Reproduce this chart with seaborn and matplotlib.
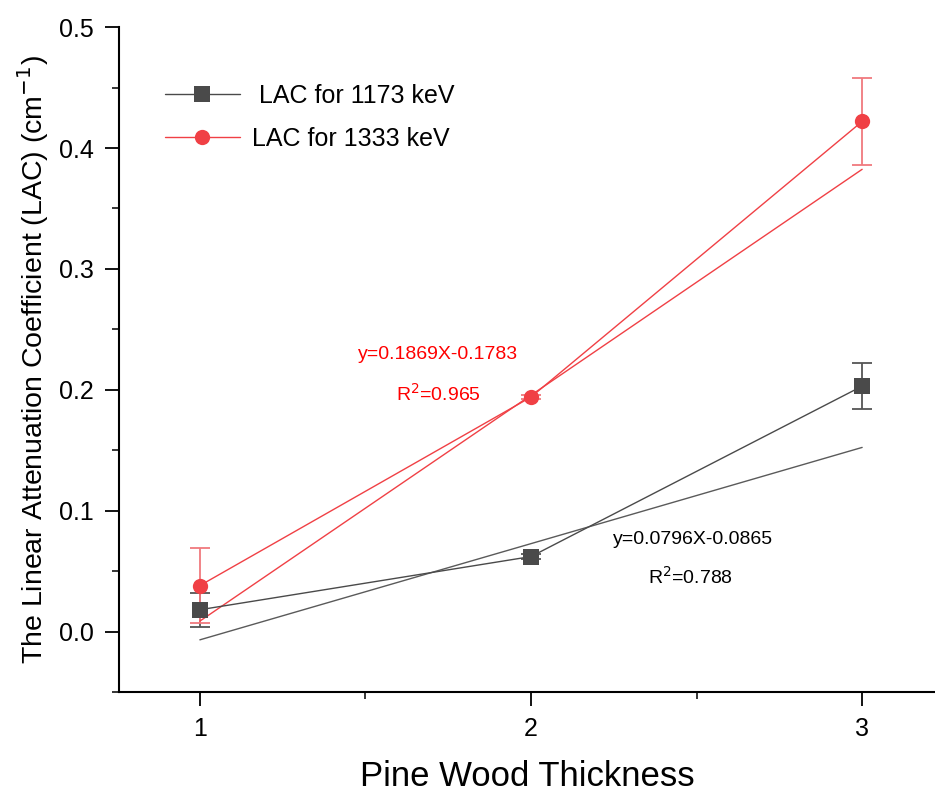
import numpy as np
import pandas as pd
import matplotlib
matplotlib.use("Agg")
import matplotlib.pyplot as plt
import seaborn as sns
from matplotlib.ticker import MultipleLocator, FormatStrFormatter

# DATA
thickness = [1, 2, 3]
lac_1173 = [0.018, 0.062, 0.203]
err_1173 = [0.014, 0.002, 0.019]
lac_1333 = [0.038, 0.194, 0.422]
err_1333 = [0.031, 0.002, 0.036]

# linear fits as printed on the chart (slope, intercept)
fit_1173 = (0.0796, -0.0865)
fit_1333 = (0.1869, -0.1783)

labels = [" LAC for 1173 keV", "LAC for 1333 keV"]
grey = "#4a4a4a"
red = "#f04045"

sns.set_style("ticks")
plt.rcParams["font.family"] = ["Liberation Sans", "DejaVu Sans"]
plt.rcParams["text.color"] = "black"
plt.rcParams["axes.labelcolor"] = "black"

fig = plt.figure(figsize=(9.35, 7.99), dpi=100)
ax = fig.add_axes([0.127, 0.134, 0.873, 0.832])

df = pd.DataFrame({
    "x": thickness * 2,
    "y": lac_1173 + lac_1333,
    "series": [labels[0]] * 3 + [labels[1]] * 3,
})

# error bars first so markers sit on top
ax.errorbar(thickness, lac_1173, yerr=err_1173, fmt="none", ecolor="#555555",
            elinewidth=1.3, capsize=7, capthick=1.3, zorder=2)
ax.errorbar(thickness, lac_1333, yerr=err_1333, fmt="none", ecolor="#f07a7e",
            elinewidth=1.3, capsize=7, capthick=1.3, zorder=2)

sns.lineplot(data=df, x="x", y="y", hue="series", style="series",
             palette=[grey, red], markers=["s", "o"], dashes=False,
             markersize=11, markeredgewidth=0, linewidth=1.0, ax=ax, zorder=3)

# fit lines
xf = np.array([1, 3])
for (m, b), c in [(fit_1173, "#5a5a5a"), (fit_1333, red)]:
    sns.lineplot(x=xf, y=m * xf + b, color=c, linewidth=1.0, ax=ax, zorder=2,
                 legend=False)

ax.set_xlim(0.755, 3.22)
ax.set_ylim(-0.05, 0.5)

# equation annotations
ax.text(1.72, 0.229, "y=0.1869X-0.1783", color="red", fontsize=14, ha="center", va="center")
ax.text(1.72, 0.197, "R$^2$=0.965", color="red", fontsize=14, ha="center", va="center")
ax.text(2.49, 0.076, "y=0.0796X-0.0865", color="black", fontsize=14, ha="center", va="center")
ax.text(2.48, 0.045, "R$^2$=0.788", color="black", fontsize=14, ha="center", va="center")

ax.xaxis.set_major_locator(MultipleLocator(1))
ax.xaxis.set_minor_locator(MultipleLocator(0.5))
ax.yaxis.set_major_locator(MultipleLocator(0.1))
ax.yaxis.set_minor_locator(MultipleLocator(0.05))
ax.yaxis.set_major_formatter(FormatStrFormatter("%.1f"))
ax.tick_params(which="major", length=10, width=1.3, labelsize=18, colors="black", pad=8)
ax.tick_params(which="minor", length=5, width=1.3)

for s in ["top", "right"]:
    ax.spines[s].set_visible(False)
for s in ["left", "bottom"]:
    ax.spines[s].set_linewidth(1.5)
    ax.spines[s].set_color("black")

ax.set_xlabel("Pine Wood Thickness", fontsize=25, labelpad=14)
ax.set_ylabel("The Linear Attenuation Coefficient (LAC) (cm$^{-1}$)", fontsize=20.5,
              labelpad=6)

leg = ax.legend(loc="upper left", bbox_to_anchor=(0.029, 0.948), frameon=False,
                fontsize=18, handlelength=3.0, handletextpad=0.5,
                labelspacing=0.75, markerscale=1.0)

fig.savefig("out.png", dpi=100)
